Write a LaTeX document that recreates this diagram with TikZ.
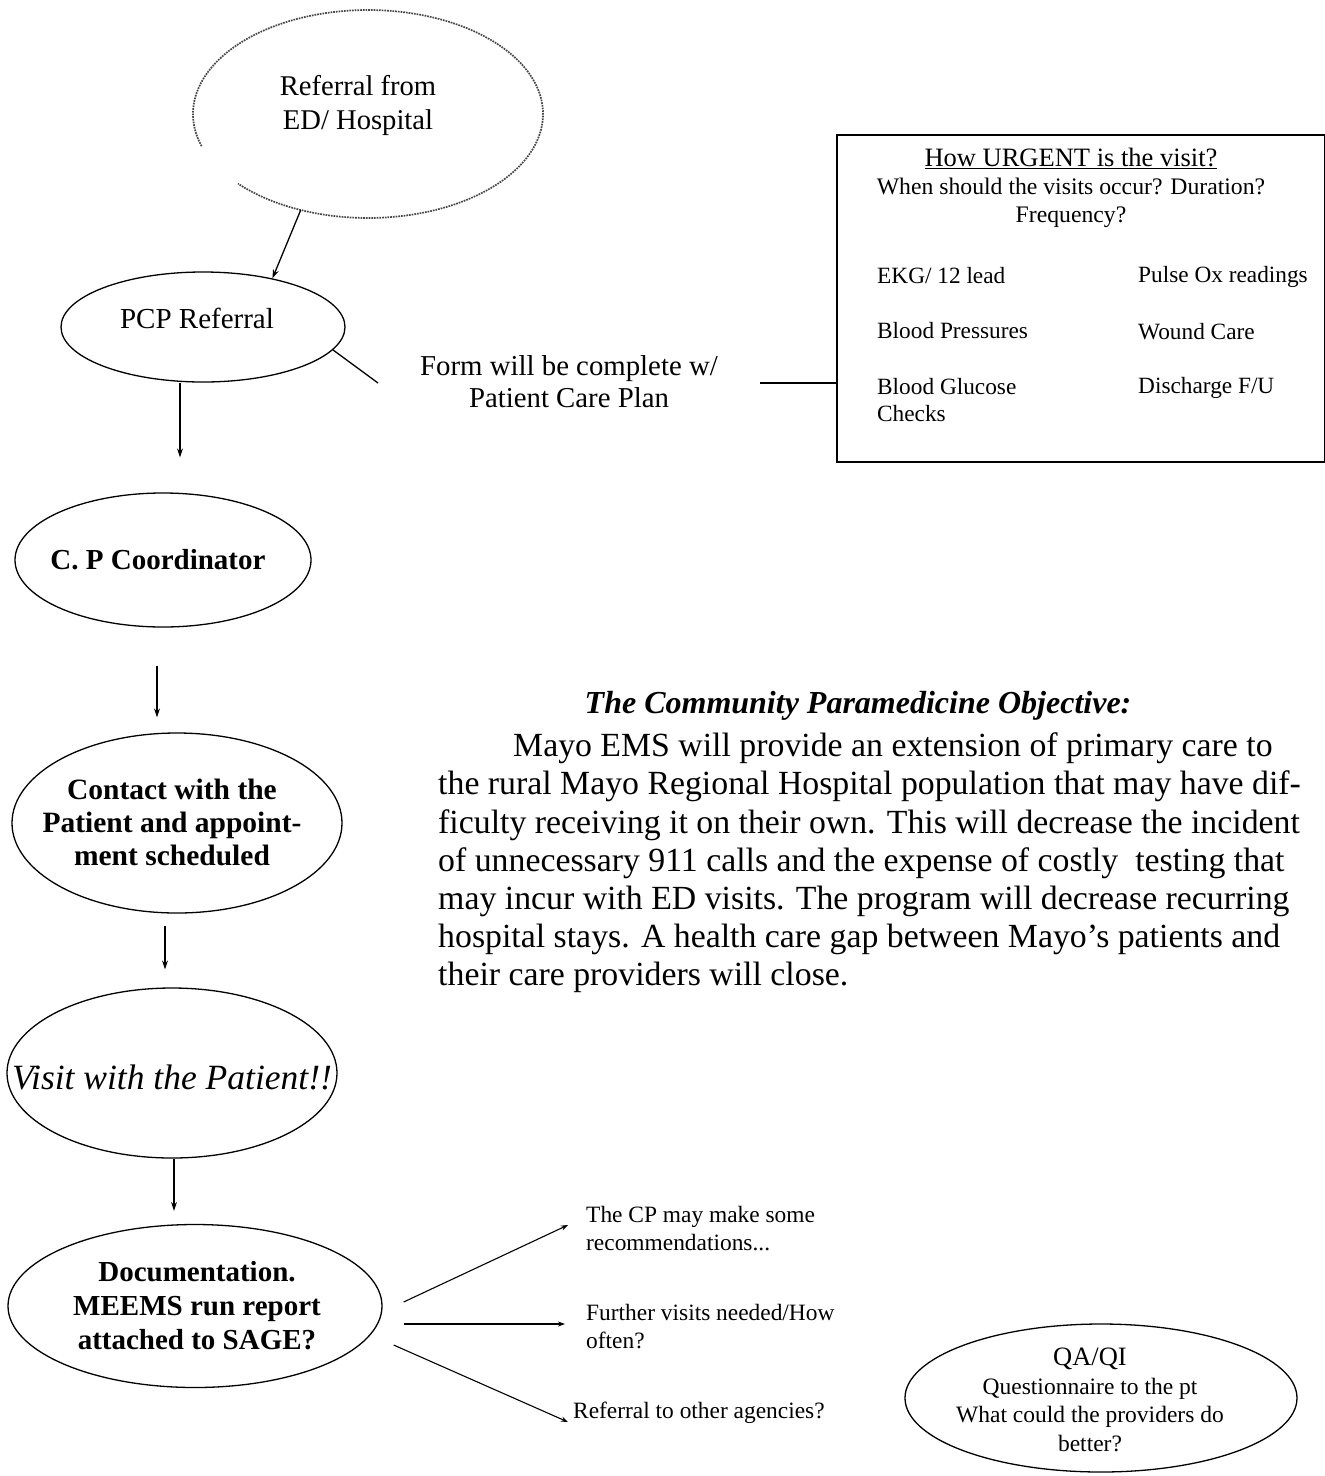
\documentclass[tikz,border=0pt]{standalone}
\usepackage{fontspec}
\setmainfont{Liberation Serif}
\usetikzlibrary{shapes.geometric,arrows.meta}
\newcommand\mysz[2]{\fontsize{#1}{#2}\selectfont}
\begin{document}
\begin{tikzpicture}[x=1pt,y=-1pt,
  oval/.style={draw, ellipse, line width=1.3pt, inner sep=0pt},
  conn/.style={line width=1.3pt},
  arr/.style={conn, -{Stealth[length=9pt,width=6pt]}},
  sarr/.style={line width=1.1pt, -{Stealth[length=7pt,width=5pt]}},
  txt/.style={inner sep=0pt, align=center},
  ltxt/.style={inner sep=0pt, align=left, anchor=west},
  boxtxt/.style={inner sep=0pt, anchor=west, font=\mysz{23.3}{27}}
]
\fill[white] (0,0) rectangle (1325,1476);
\useasboundingbox (0,0) rectangle (1325,1476);

% top dotted ellipse (gap at lower left)
\node[ellipse, inner sep=0pt, minimum width=350pt, minimum height=208pt] (ref) at (368,114) {};
\draw[gray!55!black, line width=1.7pt, densely dotted]
  plot[domain=162:498, samples=120, smooth] ({368+175*cos(\x)},{114+104*sin(\x)});
\node[txt, font=\mysz{28.6}{34}] (reft) at (358,105) {Referral from\\ED/ Hospital};

% PCP referral
\node[oval, minimum width=284pt, minimum height=110pt] (pcp) at (203,327) {};
\node[txt, font=\mysz{29}{32}] (pcpt) at (197,318) {PCP Referral};

% C.P Coordinator
\node[oval, minimum width=296pt, minimum height=134pt] (cpc) at (163,560) {};
\node[txt, font=\bfseries\mysz{29}{33}] (cpct) at (158,560) {C. P Coordinator};

% Contact
\node[oval, minimum width=330pt, minimum height=180pt] (con) at (177,823) {};
\node[txt, font=\bfseries\mysz{29.5}{33}] (cont) at (172,822) {Contact with the\\Patient and appoint-\\ment scheduled};

% Visit
\node[oval, minimum width=330pt, minimum height=170pt] (vis) at (172,1073) {};
\node[txt, font=\itshape\mysz{35.5}{38}] (vist) at (172,1077) {Visit with the Patient!!};

% Documentation
\node[oval, minimum width=374pt, minimum height=163pt] (doc) at (195,1306) {};
\node[txt, font=\bfseries\mysz{29}{34}] (doct) at (197,1306) {Documentation.\\MEEMS run report\\attached to SAGE?};

% QA/QI
\node[oval, minimum width=392pt, minimum height=148pt] (qa) at (1101,1398) {};
\node[txt, font=\mysz{23.5}{28.5}] (qat) at (1090,1400) {{\mysz{26.5}{30}QA/QI}\\Questionnaire to the pt\\What could the providers do\\better?};

% vertical arrows
\draw[arr] (ref.235) -- (pcp.35);
\draw[arr] ([xshift=-23pt]pcp.south) -- ([xshift=17pt,yshift=35pt]cpc.north);
\draw[arr] ([xshift=-6pt,yshift=-38pt]cpc.south) -- ([xshift=-20pt,yshift=15pt]con.north);
\draw[arr] ([xshift=-12pt,yshift=-12pt]con.south) -- ([xshift=-7pt,yshift=18pt]vis.north);
\draw[arr] ([xshift=2pt]vis.south) -- ([xshift=-21pt,yshift=13pt]doc.north);

% form text and box
\node[txt, font=\mysz{28.8}{32}] (form) at (569,382) {Form will be complete w/\\Patient Care Plan};
\coordinate (formL) at (378,383);
\coordinate (formR) at (760,383);
\draw[conn] (pcp.-10) -- (formL);
\node[draw, line width=1.6pt, minimum width=488pt, minimum height=327pt, inner sep=0pt] (box) at (1081,298.5) {};
\draw[conn] (formR) -- (formR -| box.west);

\node[txt, font=\mysz{26.5}{30}] (bt) at (1071,158) {\underline{How URGENT is the visit?}};
\node[txt, font=\mysz{23.7}{28}] (bq) at (1071,203) {When should the visits occur? Duration?\\Frequency?};
\node[boxtxt] (b1) at (877,276) {EKG/ 12 lead};
\node[boxtxt] (b2) at (877,331) {Blood Pressures};
\node[boxtxt, align=left] (b3) at (877,400) {Blood Glucose\\Checks};
\node[boxtxt] (b4) at (1138,277) {Pulse Ox readings};
\node[boxtxt] (b5) at (1138,332) {Wound Care};
\node[boxtxt] (b6) at (1138,388) {Discharge F/U};

% objective
\node[txt, font=\bfseries\itshape\mysz{32}{38}] (objt) at (858,706) {The Community Paramedicine Objective:};
\node[ltxt, font=\mysz{33.8}{38.2}] (obj) at (438,863) {\hspace*{75pt}Mayo EMS will provide an extension of primary care to\\
the rural Mayo Regional Hospital population that may have dif-\\
ficulty receiving it on their own. This will decrease the incident\\
of unnecessary 911 calls and the expense of costly\ \ testing that\\
may incur with ED visits. The program will decrease recurring\\
hospital stays. A health care gap between Mayo’s patients and\\
their care providers will close.};

% outcomes
\node[ltxt, font=\mysz{23.4}{28}] (rec) at (586,1229) {The CP may make some\\recommendations...};
\node[ltxt, font=\mysz{23.4}{28}] (fur) at (586,1327) {Further visits needed/How\\often?};
\node[ltxt, font=\mysz{23.4}{28}] (oth) at (573,1413) {Referral to other agencies?};
\draw[sarr] ([xshift=21pt,yshift=4pt]doc.east) -- ([xshift=-18pt,yshift=4pt]rec.west);
\draw[sarr] ([xshift=21pt,yshift=-18pt]doc.east) -- ([xshift=-21pt,yshift=3pt]fur.west);
\draw[sarr] ([xshift=11pt,yshift=-39pt]doc.east) -- ([xshift=-5pt,yshift=-9pt]oth.west);
\end{tikzpicture}
\end{document}
